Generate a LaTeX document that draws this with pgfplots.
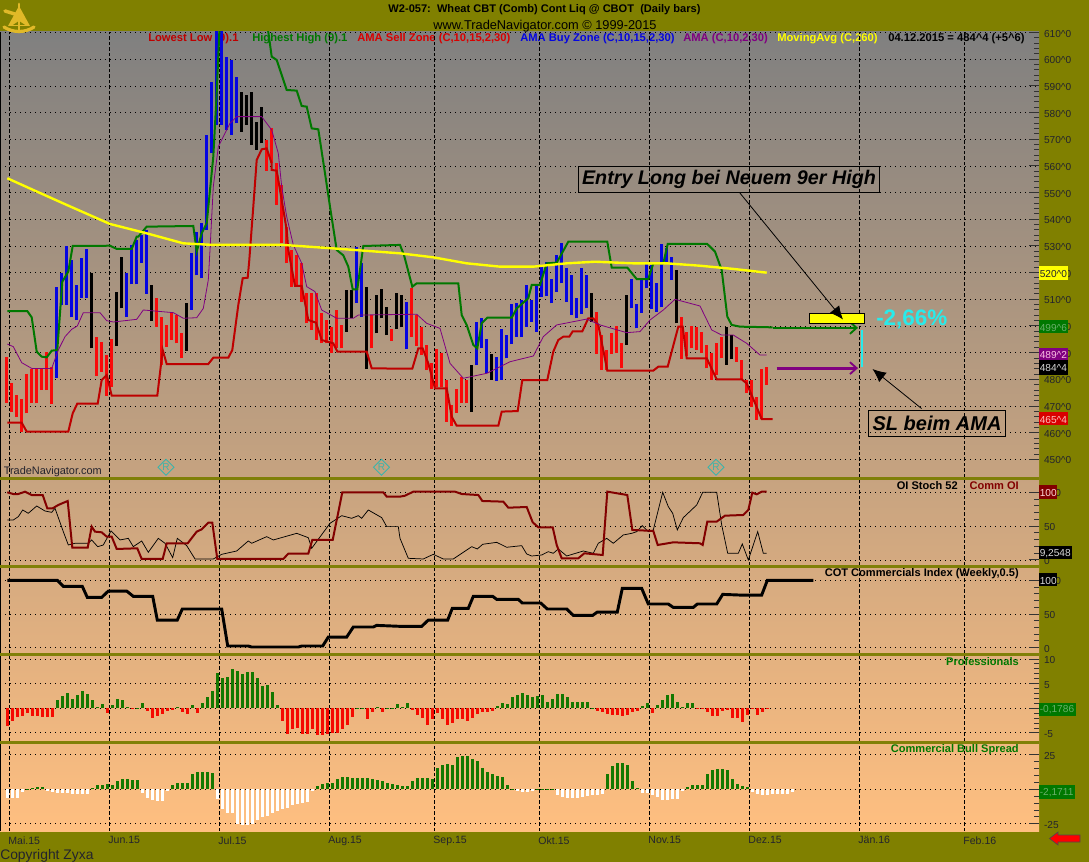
\documentclass[border=0pt]{standalone}
\usepackage{fontspec}
\setmainfont{Liberation Sans}
\usepackage{pgfplots}
\usepackage{pgfplotstable}
\pgfplotsset{compat=1.18}
\usetikzlibrary{arrows.meta, shapes.geometric}

\definecolor{olivebg}{RGB}{128,128,0}
\definecolor{sepolive}{RGB}{128,128,8}
\definecolor{shadetop}{RGB}{128,128,128}
\definecolor{shadebot}{RGB}{255,191,128}
\definecolor{barred}{RGB}{250,10,10}
\definecolor{barblue}{RGB}{5,5,225}
\definecolor{lowred}{RGB}{190,0,0}
\definecolor{highgreen}{RGB}{0,120,0}
\definecolor{amapurple}{RGB}{128,0,128}
\definecolor{mayellow}{RGB}{255,255,0}
\definecolor{commoi}{RGB}{130,0,0}
\definecolor{histgreen}{RGB}{20,120,0}
\definecolor{histred}{RGB}{245,10,0}
\definecolor{labeltxt}{RGB}{35,35,45}
\definecolor{flagcyan}{RGB}{40,235,235}
\definecolor{diamondc}{RGB}{60,180,170}
\definecolor{gold}{RGB}{225,185,40}

% daily bars: bar number, low, high
\pgfplotstableread{
i lo hi
0 471.2 488.5
1 467.9 478.8
2 466 474.1
3 460.1 472.5
4 467.2 482
5 471 483.8
6 471 483.8
7 476 483.8
8 476 490.4
9 470.6 484.8
18 481.4 495.8
19 482.9 494.1
20 473.8 489.1
21 477.2 495
30 499.8 510.4
31 485.4 503.2
32 492.2 500.4
33 494.8 504.8
34 493.5 504
35 487.9 497.2
52 558.2 569.8
53 561 574.1
54 545.4 561
55 531 552.9
56 523.5 537.2
57 514.8 528.5
58 514.8 526.6
59 509.1 523.5
60 501 512.2
61 498.5 512.2
62 494.8 512.2
63 493.5 504.8
64 493.5 502.2
65 489.8 499.8
66 491.6 506
67 491.6 500.4
73 491.6 504.1
77 494.5 498.8
81 496 514.1
82 492.5 504
83 489.1 499.8
84 483.5 492.9
85 476.2 486
86 477.2 491.2
87 477.2 489.8
88 464.1 479.8
89 462.5 470.4
90 467.5 476.2
91 471 481
92 471 479.8
118 489.5 505.4
119 483.5 496.6
120 483.5 491
121 489.5 497.2
122 489.8 500
123 484.1 493.5
135 487.5 503.5
136 488.8 497.9
137 491.6 500
138 491 499.5
139 489.8 497.9
140 484.1 492.9
141 479.8 489.8
142 481.6 493.5
143 487.9 496
146 486.6 492.2
147 479.8 487.2
148 474.8 479.8
149 469.8 479.8
150 464.8 473.5
151 465 483.8
152 478 484.5
}\redbars
\pgfplotstableread{
i lo hi
10 480.4 514.8
11 507.9 519.8
12 507.9 530
13 503.2 524.8
14 502.2 515.4
15 510.4 525.4
16 510.4 528.9
24 503.5 519.8
25 515.6 530.4
26 515.6 532.2
27 523.8 534
28 512 536
37 506 527.5
38 519 535.4
39 517.9 538.8
40 536 571.6
41 564.8 591.6
42 575.4 612
43 575.4 612
44 573.5 601
45 571.6 599.8
46 576 593.2
70 508.8 529.8
71 503.5 523.5
80 491.2 509
94 485.4 501.6
95 491.6 502.9
96 482.5 495
98 479.5 488.5
99 479.8 498.8
100 487.9 496.6
101 493.2 508.2
102 496 508.5
103 495.8 509.8
104 499.8 515.4
105 501.6 509.8
106 497.9 515.4
107 511 522.2
108 511.2 524.1
109 508.5 517.5
110 512.9 526.6
111 516 531.2
112 509.1 521.6
113 504.1 519.1
114 502.9 510.4
115 504.5 521.6
116 506.6 519.1
125 506.6 517.5
126 499.1 508.2
127 505 517.2
128 514.1 523.2
129 506.2 522.9
130 505.4 516
131 507 530.8
132 523.5 529.1
133 517.2 526
}\bluebars
\pgfplotstableread{
i lo hi
17 491.6 519.8
22 492.6 512.9
23 506.6 526
29 502 515.4
36 490.8 508.5
47 572.9 587.9
48 575.4 586.6
49 567.9 587.9
50 566 576.6
51 568.5 582.2
68 497.9 513.5
69 502.9 513.5
72 483.8 514.5
74 497.2 511.6
75 502.9 513.8
76 496.6 507
78 498.8 512.2
79 499.5 511.6
93 467.9 485.4
97 479.8 489.5
117 501.6 512.2
124 492.9 511.6
134 501 521
144 485.4 499.5
145 487.5 496.6
}\blackbars

% Professionals and Commercial Bull Spread, per bar number
\pgfplotstableread{
i v
0 -3.5
1 -2.5
2 -1.7
3 -1.5
4 -1
5 -1.5
6 -1.5
7 -1.7
8 -1.7
9 -1.7
10 1.7
11 2.5
12 3.1
13 1.9
14 2.7
15 3.5
16 2.9
17 1.7
18 0.2
19 0.9
20 -1
21 0.7
22 1.9
23 1.7
24 0.2
25 -0.2
26 0.1
27 1.1
28 -0.5
29 -2
30 -1.5
31 -1.1
32 -0.5
33 -0.3
34 0.2
35 -0.8
36 -1.1
37 0.7
38 -1
39 1.1
40 2.3
41 3.5
42 7.1
43 6.2
44 6.3
45 8
46 7.5
47 7
48 7.3
49 7.3
50 6.2
51 4.6
52 4.8
53 3.3
54 0.7
55 -2.5
56 -5.3
57 -4.1
58 -4
59 -5.3
60 -5.3
61 -4.2
62 -5.5
63 -5.5
64 -5.3
65 -5.1
66 -5
67 -4.1
68 -3.3
69 -1.7
70 0.1
71 0.1
72 -2.1
73 -0.7
74 0.2
75 -0.7
76 0.05
77 0.1
78 0.9
79 0.2
80 1.1
81 -0.3
82 -1.3
83 -1.9
84 -3.3
85 -2.1
86 -1
87 -2.1
88 -3.3
89 -2.9
90 -2.1
91 -2.1
92 -2.5
93 -2
94 -1.1
95 -0.8
96 -0.7
97 -0.6
98 0.5
99 1
100 0.8
101 2.3
102 2.7
103 3.2
104 2.7
105 2.3
106 2.5
107 2.7
108 1.3
109 1.8
110 3
111 2.9
112 2.3
113 1.3
114 1.3
115 1.3
116 1.3
117 0.08
118 -0.5
119 -0.7
120 -1.1
121 -1.3
122 -1.3
123 -1.5
124 -1.3
125 -0.8
126 -0.5
127 0.5
128 1.1
129 -1
130 0.7
131 1.7
132 2.8
133 2.9
134 1.3
135 0.3
136 1
137 1.1
138 -0.1
139 -0.2
140 -0.7
141 -1.5
142 -1.5
143 -0.5
144 -0.3
145 -2
146 -2
147 -2.7
148 -1.3
149 -0.2
150 -1.3
151 -0.7
152 -0.2
}\professionals
\pgfplotstableread{
i v
0 -6.1
1 -6.1
2 -6.1
3 -1.7
4 0.2
5 1
6 1.5
7 1.5
8 -1
9 -1.7
10 -2.4
11 -2.9
12 -2.9
13 -3.4
14 -3.4
15 -3.4
16 -3.4
17 0.7
18 3.2
19 3.2
20 3.9
21 3.2
22 6.1
23 7.5
24 7.5
25 6.8
26 6.8
27 -2.9
28 -6.1
29 -7.8
30 -8.3
31 -8.3
32 -1.2
33 3.4
34 4.4
35 4.4
36 4.4
37 10.9
38 12.6
39 12.6
40 12.6
41 11.7
42 -7
43 -14.6
44 -17.5
45 -17.5
46 -25.2
47 -26
48 -26
49 -24.8
50 -22.3
51 -19.9
52 -19.2
53 -17.5
54 -15.5
55 -14.6
56 -13.4
57 -11.4
58 -10.7
59 -9.7
60 -9
61 -1.2
62 2.7
63 3.9
64 4.9
65 4.9
66 7.5
67 8.7
68 8.7
69 8
70 8
71 8
72 8
73 7.3
74 6.8
75 6.3
76 4.9
77 3.9
78 3.2
79 2.4
80 2.4
81 6.3
82 8
83 8
84 8
85 7.5
86 15.3
87 17.7
88 18.2
89 17.7
90 23.3
91 24.3
92 23.8
93 21.8
94 20.6
95 15.3
96 12.4
97 10.9
98 9.7
99 8.7
100 3.2
101 0.2
102 -1.2
103 -1.7
104 -1.7
105 -1
106 0.2
107 0.2
108 0.2
109 0.2
110 -4.1
111 -5.3
112 -6.1
113 -6.1
114 -6.1
115 -5.3
116 -4.6
117 -4.1
118 -4.1
119 -3.4
120 11.2
121 17.2
122 19.2
123 19.2
124 17.7
125 6.3
126 0.7
127 -2.4
128 -2.9
129 -4.1
130 -5.3
131 -7.8
132 -7.8
133 -7
134 -7
135 -1
136 1.5
137 3.2
138 3.2
139 3.2
140 11.2
141 14.1
142 14.8
143 14.8
144 14.1
145 7.5
146 3.9
147 2.7
148 1.9
149 -2.2
150 -3.4
151 -4.1
152 -4.1
153 -3.6
154 -3.6
155 -3.4
156 -3.4
157 -2.2
}\bullspread

\newcommand\xdates{9.5,109.5,219.5,329.5,434.5,539.5,649.5,749.5,859.5,964.5}
\pgfplotsset{
  panel/.style={
    scale only axis, width=779.25pt,
    xmin=0, xmax=1039,
    xtick/.expanded=\xdates, xticklabels={},
    grid=major,
    x grid style={black, line width=0.75pt, dash pattern=on 2.6pt off 1.5pt},
    y grid style={black, line width=0.7pt, dash pattern=on 0.75pt off 3pt},
    axis line style={draw=none},
    major x tick style={draw=none},
    ytick pos=right, yticklabel pos=right,
    tick align=inside,
    major tick length=7.5pt, minor tick length=3.75pt,
    every y tick/.style={black!80, line width=0.75pt},
    minor y tick num=4,
    y tick label style={font=\fontsize{7.6}{9}\selectfont, text=labeltxt, anchor=west, inner sep=0pt, xshift=3.6pt, yshift=-0.7pt},
    clip=true,
  },
  hist/.style={ycomb, no markers, line width=2.5pt},
  bars/.style={draw=none, no markers, forget plot,
    error bars/.cd, y dir=plus, y explicit, error mark=none,
    error bar style={line width=1.9pt, draw=#1}},
}
\newcommand\lgd{\fontsize{8.4}{10}\selectfont\bfseries}
\newcommand\hdr{\fontsize{8.3}{10}\selectfont\bfseries}

\begin{document}
\begin{tikzpicture}

\begin{scope}[x=0.75pt, y=-0.75pt]
  \fill[olivebg] (-5,-5) rectangle (1094,867);
  \shade[top color=shadetop, bottom color=shadebot] (0,32) rectangle (1039,831);
  \fill[black] (0,32) rectangle (1,831);

  % title
  \node[font=\fontsize{8.3}{10}\selectfont\bfseries, anchor=center] at (544.5,10) {W2-057:\ \ Wheat CBT (Comb) Cont Liq @ CBOT\ \ (Daily bars)};
  \node[font=\fontsize{9.6}{11}\selectfont, anchor=center] at (545,26) {www.TradeNavigator.com © 1999-2015};

  % study legend along the top of the price panel
  \node[font=\lgd, text=lowred, anchor=west, inner sep=0pt] at (148,38.5) {Lowest Low (9).1};
  \node[font=\lgd, text=highgreen, anchor=west, inner sep=0pt] at (252,38.5) {Highest High (9).1};
  \node[font=\lgd, text=red!85!black, anchor=west, inner sep=0pt] at (357,38.5) {AMA Sell Zone (C,10,15,2,30)};
  \node[font=\lgd, text=barblue, anchor=west, inner sep=0pt] at (520,38.5) {AMA Buy Zone (C,10,15,2,30)};
  \node[font=\lgd, text=amapurple, anchor=west, inner sep=0pt] at (683,38.5) {AMA (C,10,2,30)};
  \node[font=\lgd, text=mayellow, anchor=west, inner sep=0pt] at (777,38.5) {MovingAvg (C,260)};
  \node[font=\lgd, text=black, anchor=west, inner sep=0pt] at (888,38.5) {04.12.2015 = 484\textasciicircum 4 (+5\textasciicircum 6)};

  % panel titles
  \node[font=\hdr, text=black, anchor=east, inner sep=0pt] at (958,486) {OI Stoch 52};
  \node[font=\hdr, text=commoi, anchor=east, inner sep=0pt] at (1019,486) {Comm OI};
  \node[font=\hdr, text=black, anchor=east, inner sep=0pt] at (1019,574) {COT Commercials Index (Weekly,0.5)};
  \node[font=\hdr, text=highgreen, anchor=east, inner sep=0pt] at (1019,662) {Professionals};
  \node[font=\hdr, text=highgreen, anchor=east, inner sep=0pt] at (1019,750) {Commercial Bull Spread};

  \node[font=\fontsize{8.2}{10}\selectfont, text=labeltxt, anchor=west, inner sep=0pt] at (3.5,472) {TradeNavigator.com};
\end{scope}

% price panel
\begin{axis}[panel, at={(0pt,-357.75pt)}, anchor=south west, height=333.75pt,
  ymin=443.38, ymax=610.24,
  ytick={450,460,470,480,490,500,510,520,530,540,550,560,570,580,590,600,610},
  yticklabels={450\textasciicircum 0,460\textasciicircum 0,470\textasciicircum 0,480\textasciicircum 0,490\textasciicircum 0,500\textasciicircum 0,510\textasciicircum 0,520\textasciicircum 0,530\textasciicircum 0,540\textasciicircum 0,550\textasciicircum 0,560\textasciicircum 0,570\textasciicircum 0,580\textasciicircum 0,590\textasciicircum 0,600\textasciicircum 0,610\textasciicircum 0},
]
\addplot[bars=barred] table[x expr=6.7+5*\thisrow{i}, y=lo, y error expr=\thisrow{hi}-\thisrow{lo}] {\redbars};
\addplot[bars=barblue] table[x expr=6.7+5*\thisrow{i}, y=lo, y error expr=\thisrow{hi}-\thisrow{lo}] {\bluebars};
\addplot[bars=black] table[x expr=6.7+5*\thisrow{i}, y=lo, y error expr=\thisrow{hi}-\thisrow{lo}] {\blackbars};

% Lowest Low (9).1
\addplot[lowred, line width=1.5pt, no markers] coordinates {
(7.3,463.75)(21.7,463.75)(26.7,460.4)(68.3,460.4)(72.7,467.25)(77.3,470.9)(97.7,470.9)(101.7,479.75)(106.7,481.6)(111.7,473.9)(157.3,473.9)(162.7,491)(166.7,485.75)(208.3,485.75)(213.3,488.1)(228.3,488.1)(232.3,491)(238.3,507.9)(242.7,517.9)(247.7,518.1)(249.3,524.75)(253.3,544.75)(256.7,562.25)(261.7,566.25)(266.7,566.6)(271.7,561)(271.7,558.5)(276.7,558.25)(281.7,547.25)(286.7,536)(288.3,528.5)(295,515)(301.7,515)(308.3,502.25)(316,501.25)(321.7,494.75)(333.3,493.5)(337.3,490.4)(366.7,490.4)(371.7,484.1)(412.3,484)(418.3,491.6)(422.7,491.6)(428.3,486)(435,476.6)(446.7,476.6)(451.7,466)(456.7,462.6)(498.3,462.6)(501.7,467.9)(517.7,468.1)(522.3,479.75)(547.3,479.75)(553.3,490.4)(558.3,494.75)(563.3,496)(569.3,496)(572.7,498)(582.3,498)(588.3,502.9)(593.3,502.9)(598.3,500.4)(607.3,483.25)(653.3,483.25)(658.3,484.75)(667.7,484.75)(678.3,499.75)(682.7,499.75)(686.7,487.9)(706.7,487.9)(716.7,480)(741.7,480)(746.7,478.5)(761.7,465.1)(772.7,465.1)
};
% Highest High (9).1
\addplot[highgreen, line width=1.5pt, no markers] coordinates {
(7.3,505.6)(27.3,505.6)(31.7,503.25)(36.7,490.4)(41.7,488.5)(46.7,488.25)(51.7,490.75)(57.3,491)(62.3,516.6)(68.3,520.4)(72.7,530)(110,530.1)(116.7,528.9)(131.7,528.9)(136.7,533.5)(138.3,533.5)(146.7,537.25)(193.3,537.5)(196.7,527.9)(201.7,534.75)(206.7,538.5)(213.3,563.5)(216.7,587.25)(219.3,610)(222,625)(262,625)(268.3,610.25)(271.7,601)(276.7,599.75)(286.7,588.5)(296.7,588.25)(301.7,582.5)(306.7,582.25)(311.7,574.1)(318.3,573.75)(325,557.25)(330,544.75)(336.7,528.5)(343.3,526.5)(348.3,522.25)(352.7,513.75)(357.3,513.75)(363.3,530)(400,530.4)(404,526.6)(412.3,514.75)(416.7,516)(458.3,516)(461.7,504.1)(466.7,500.4)(473.3,492.9)(477.3,491.6)(481.7,501)(487.3,503.1)(511.7,503.1)(516.7,506.6)(528.3,510.4)(531.7,515.4)(540,515.4)(546.7,523.5)(556.7,523.75)(568.3,531.6)(607.3,531.6)(611.7,521.9)(627.3,521.9)(636.7,517.6)(648.3,517.6)(653.3,523.5)(663.3,523.5)(667.7,530.75)(707.3,530.75)(715,527.9)(721.7,521)(727.3,503.5)(731.7,500.4)(740,499.75)(772.7,499.5)
};
% AMA (C,10,2,30)
\addplot[amapurple, line width=0.6pt, no markers] coordinates {
(7.3,493.25)(13.3,492.25)(21.7,486.25)(31.7,484.1)(51.7,484.1)(58.3,491)(65,496)(71.7,498.75)(77.3,500)(83.3,505)(100,505)(106.7,502)(113.3,501.5)(136.7,502.5)(143.3,506)(173.3,505)(183.3,502.9)(196.7,503.1)(203.3,506.6)(208.3,517.25)(210,528.5)(213.3,552.25)(218.3,567.25)(223.3,571)(230,576)(236.7,578.5)(261.7,578.5)(271.7,573.5)(278.3,564.75)(281.7,552.25)(286.7,541)(293.3,530.4)(301.7,523.5)(306.7,514.75)(315,512.9)(321.7,506)(336.7,502.9)(353.3,502.9)(358.3,504.1)(416.7,504.4)(426.7,501)(440,499.1)(450,486)(463.3,480.4)(486.7,482.25)(510,486.6)(533.3,488.75)(543.3,496)(556.7,500.4)(586.7,502.6)(600,500.4)(626.7,497.5)(640,497.9)(650,502.25)(663.3,506)(675,510)(700,507.5)(711.7,498.5)(721.7,496.6)(733.3,496.6)(746.7,493.5)(760,489.1)(766.7,489.1)
};
% MovingAvg (C,260)
\addplot[mayellow, line width=1.8pt, no markers] coordinates {
(7.3,555.4)(33.3,551)(66.7,545.4)(110,538.25)(146.7,534.75)(183.3,531)(213.3,530.4)(283.3,530.4)(333.3,529.1)(400,527.25)(433.3,525.75)(466.7,523.5)(500,522.25)(533.3,522.25)(566.7,523.5)(595,524.1)(633.3,523.5)(666.7,523.5)(700,522.6)(733.3,521.4)(766.7,520)
};
\addplot[highgreen, line width=2pt, no markers, -{Straight Barb[length=5pt, width=9pt, line width=1.4pt]}] coordinates {(772.7,499.3)(858,499.3)};
\addplot[amapurple, line width=2.2pt, no markers, -{Straight Barb[length=5pt, width=9pt, line width=1.4pt]}] coordinates {(776.7,484.2)(858,484.2)};
\end{axis}

% OI Stoch 52 / Comm OI
\begin{axis}[panel, at={(0pt,-423.75pt)}, anchor=south west, height=63.75pt,
  ymin=-7.39, ymax=118.2, ytick={0,50,100}, yticklabels={0,50,100}]
\addplot[black, line width=0.55pt, no markers] coordinates {
(7.3,59.1)(13.3,59.1)(18.3,64)(22.7,73.9)(28.3,69)(36.7,79.8)(45,72.4)(51.7,70.4)(55,76.4)(63.3,41.9)(68.3,22.2)(75,24.7)(88.3,24.7)(91.7,29.6)(97.7,19.7)(103.3,22.2)(111,42.9)(120,29.6)(128.3,32)(133.3,19.7)(141.7,28.1)(148.3,11.4)(158.3,32)(165,24.7)(172.7,3.5)(177.3,32)(186.7,21.2)(195,1.5)(213.3,1.5)(221.7,8.4)(236.7,13.3)(248.3,28.1)(251.7,24.7)(266.7,34.5)(273.3,29.6)(296.7,39.4)(308.3,33)(311.7,17.3)(330,54.2)(341.7,65.5)(351.7,61.6)(358.3,65.5)(361.7,61.6)(368.3,73.9)(381.7,62.6)(386.7,49.3)(398.3,49.3)(400,32)(408.3,2.5)(423.3,1.5)(433.3,8.4)(443.3,1.5)(453.3,1.5)(471.7,19.7)(477.3,16.3)(482.7,23.2)(496.7,26.1)(506.7,18.8)(521.7,21.2)(526.7,8.9)(531.7,5.9)(541.7,7.4)(548.3,12.3)(553.3,9.9)(558.3,16.3)(566.7,5.9)(583.3,13.3)(593.3,9.9)(598.3,24.7)(606.7,32)(613.3,24.7)(623.3,37)(631.7,39.4)(636.7,41.9)(642.3,50.8)(648.3,41.9)(653.3,44.4)(662.7,100)(668.3,78.8)(672.7,69)(677.3,44.4)(683.3,62.6)(696.7,81.3)(702.7,100)(716.7,100)(721.7,51.7)(727.7,9.9)(738.3,9.9)(742.3,23.7)(748.3,0)(757.7,41.9)(763.3,9.9)(766.7,9.9)
};
\addplot[commoi, line width=1.5pt, no markers] coordinates {
(7.3,100)(13.3,97.5)(18.3,97.5)(25,100.9)(31.7,96)(42.7,96)(47.3,76.4)(52.7,76.4)(58.3,81.3)(67.7,87.2)(72.3,18.2)(87.7,18.2)(91.7,49.3)(95,41.9)(101.7,40.9)(106.7,34.5)(111.7,34.5)(116.7,16.3)(137.3,17.3)(141.7,1.5)(162.7,1.5)(166.7,24.7)(187.7,24.7)(196.7,41.9)(201.7,45.3)(208.3,55.2)(212.3,55.2)(217.3,1.5)(283.3,1.5)(288.3,9.4)(308.3,9.4)(312.3,29.6)(332.7,29.6)(342.3,100)(383.3,100)(386.7,93.6)(400,93.6)(405,95)(413.3,101)(455,101)(461.7,97.5)(478.3,96)(482.3,87.2)(503.3,86.2)(508.3,77.3)(526.7,78.3)(532.7,55.7)(538.3,48.3)(552.7,48.3)(556.7,22.2)(561.7,2.5)(578.3,2.5)(584.3,9.9)(602.7,7.4)(607.3,101)(627.3,96)(632.3,44.4)(653.3,42.9)(657.7,22.2)(673.3,26.1)(700,24.7)(702.7,22.2)(707.3,56.7)(716.7,56.7)(725,65.5)(743.3,66.5)(748.3,73.9)(752.3,99.5)(756.7,97)(761.7,101)(766.7,101)
};
\end{axis}

% COT Commercials Index
\begin{axis}[panel, at={(0pt,-489.75pt)}, anchor=south west, height=63.75pt,
  ymin=-7.86, ymax=118.25, ytick={0,50,100}, yticklabels={0,50,100}]
\addplot[black, line width=2.2pt, no markers] coordinates {
(7.3,99.9)(57.3,99.9)(63.3,91)(82.3,91)(87.3,74.7)(101.7,74.7)(108.3,84)(126.7,84)(133.3,76.2)(152.7,76.2)(157.3,41)(177.3,41)(182.3,57.4)(221.7,57.4)(227.7,2.5)(248.3,2.5)(251.7,1)(298.3,1)(301.7,2.5)(322.7,2.5)(328.3,15.8)(346.7,15.8)(353.3,30.7)(373.3,30.7)(376.7,33.1)(400,31.7)(421.7,31.7)(428.3,41)(447.7,41)(452.3,58.4)(468.3,58.4)(473.3,76.2)(492.7,76.2)(496.7,71.7)(518.3,71.7)(522.3,66.3)(540.7,66.3)(547.3,57.4)(566.7,57.4)(573.3,48)(592.7,48)(597.3,52.9)(617.3,52.9)(622.3,88)(641.7,88)(648.3,64.8)(668.3,64.8)(673.3,59.8)(693.3,59.8)(697.3,64.8)(716.7,64.8)(722.7,79.1)(740,78.1)(761.7,78.1)(767.3,99.9)(813.3,99.9)
};
\end{axis}

% Professionals
\begin{axis}[panel, at={(0pt,-555.75pt)}, anchor=south west, height=63.75pt,
  ymin=-6.63, ymax=10.61, ytick={-5,0,5,10}, yticklabels={-5,0,5,10}]
\addplot[hist, histgreen, restrict y to domain=0:50] table[x expr=7.7+5*\thisrow{i}, y=v] {\professionals};
\addplot[hist, histred, restrict y to domain=-50:0] table[x expr=7.7+5*\thisrow{i}, y=v] {\professionals};
\end{axis}

% Commercial Bull Spread
\begin{axis}[panel, at={(0pt,-623.25pt)}, anchor=south west, height=65.25pt,
  ymin=-30.2, ymax=32.83, ytick={-25,0,25}, yticklabels={-25,0,25},
  xticklabels={Mai.15,Jun.15,Jul.15,Aug.15,Sep.15,Okt.15,Nov.15,Dez.15,Jän.16,Feb.16},
  x tick label style={font=\fontsize{7.9}{9}\selectfont, text=labeltxt, anchor=north west, inner sep=0pt, xshift=-1pt, yshift=-4pt}]
\addplot[hist, histgreen, restrict y to domain=0:50] table[x expr=7.7+5*\thisrow{i}, y=v] {\bullspread};
\addplot[hist, white, restrict y to domain=-50:0] table[x expr=7.7+5*\thisrow{i}, y=v] {\bullspread};
\end{axis}

\begin{scope}[x=0.75pt, y=-0.75pt]
  % panel separators
  \foreach \yy in {478.5,566.5,654.5,742.5}
    \draw[sepolive, line width=2.5pt] (0,\yy) -- (1039,\yy);

  % value flags on the price scale
  \newcommand\flag[6]{%
    \fill[#1] (1039,#3) rectangle (#5,#4);
    \node[font=\fontsize{7.6}{9}\selectfont, text=#2, anchor=west, inner sep=0pt] at (1039.5,{(#3+#4)/2+0.8}) {#6};}
  \flag{mayellow}{labeltxt}{266}{280}{1068}{520\textasciicircum 0}
  \flag{highgreen}{green!30!gray!90}{320}{333.5}{1068}{499\textasciicircum 6}
  \flag{amapurple}{magenta!25!white}{348}{360}{1068}{489\textasciicircum 2}
  \flag{black}{white!85!black}{360}{375}{1068}{484\textasciicircum 4}
  \flag{red!85!black}{red!25!white}{412.5}{425.5}{1068}{465\textasciicircum 4}
  \flag{commoi}{red!15!white}{485}{499}{1056.7}{100}
  \flag{black}{white!85!black}{546}{559.5}{1072}{9,2548}
  \flag{black}{white!85!black}{573.5}{586.5}{1056.7}{100}
  \flag{highgreen}{green!30!gray!90}{702.5}{715.5}{1076}{-0,1786}
  \flag{highgreen}{green!30!gray!90}{785}{798.5}{1075}{-2,1711}

  % annotations
  \fill[mayellow, draw=black, line width=0.75pt] (809.5,313.5) rectangle (864.5,324);
  \draw[flagcyan, line width=2.2pt] (862,330.5) -- (862,367.5);
  \draw[black, line width=0.6pt, -{Latex[length=10pt, width=9pt]}] (739.5,192.5) -- (843,319.5);
  \draw[black, line width=0.6pt, -{Latex[length=10pt, width=9pt]}] (921.5,408.5) -- (872.5,369);
  \node[draw=black, line width=0.75pt, font=\fontsize{14.8}{18}\selectfont\bfseries\itshape, minimum width=226pt, minimum height=20pt, inner sep=0pt, anchor=center] at (729,179.5) {Entry Long bei Neuem 9er High};
  \node[draw=black, line width=0.75pt, font=\fontsize{15}{18}\selectfont\bfseries\itshape, minimum width=103pt, minimum height=19pt, inner sep=0pt, anchor=center] at (937,423.5) {SL beim AMA};
  \node[font=\fontsize{16.8}{20}\selectfont\bfseries, text=flagcyan, anchor=west, inner sep=0pt] at (876,319) {-2,66\%};

  % registered-mark diamonds
  \foreach \xx in {166,381.5,716} {
    \draw[diamondc, line width=0.6pt] (\xx-8,467.3) -- (\xx,459.3) -- (\xx+8,467.3) -- (\xx,475.3) -- cycle;
    \node[font=\fontsize{7.5}{9}\selectfont, text=diamondc, inner sep=0pt] at (\xx,467.3) {R};
  }

  % sextant logo
  \begin{scope}[gold, line cap=round]
    \fill (19,6) -- (8,26) -- (30,26) -- cycle;
    \fill[olivebg] (19,21) -- (13,25) -- (25,25) -- cycle;
    \draw[line width=2.2pt] (19,4) -- (19,32);
    \draw[line width=2.6pt] (5,11) -- (18,15);
    \draw[line width=2.4pt] (4,27) .. controls (13,33) and (25,33) .. (34,27);
  \end{scope}

  % footer
  \node[font=\fontsize{10.4}{12}\selectfont, text=labeltxt, anchor=west, inner sep=0pt] at (0,856) {Copyright Zyxa};
  \fill[red, draw=black!70, line width=0.5pt] (1049.5,838.5) -- (1058,832) -- (1058,835) -- (1080,835) -- (1080,842) -- (1058,842) -- (1058,845) -- cycle;
\end{scope}

% page exactly as large as the reference
\pgfresetboundingbox
\useasboundingbox (0pt,0pt) rectangle (816.75pt,-646.5pt);
\end{tikzpicture}
\end{document}
